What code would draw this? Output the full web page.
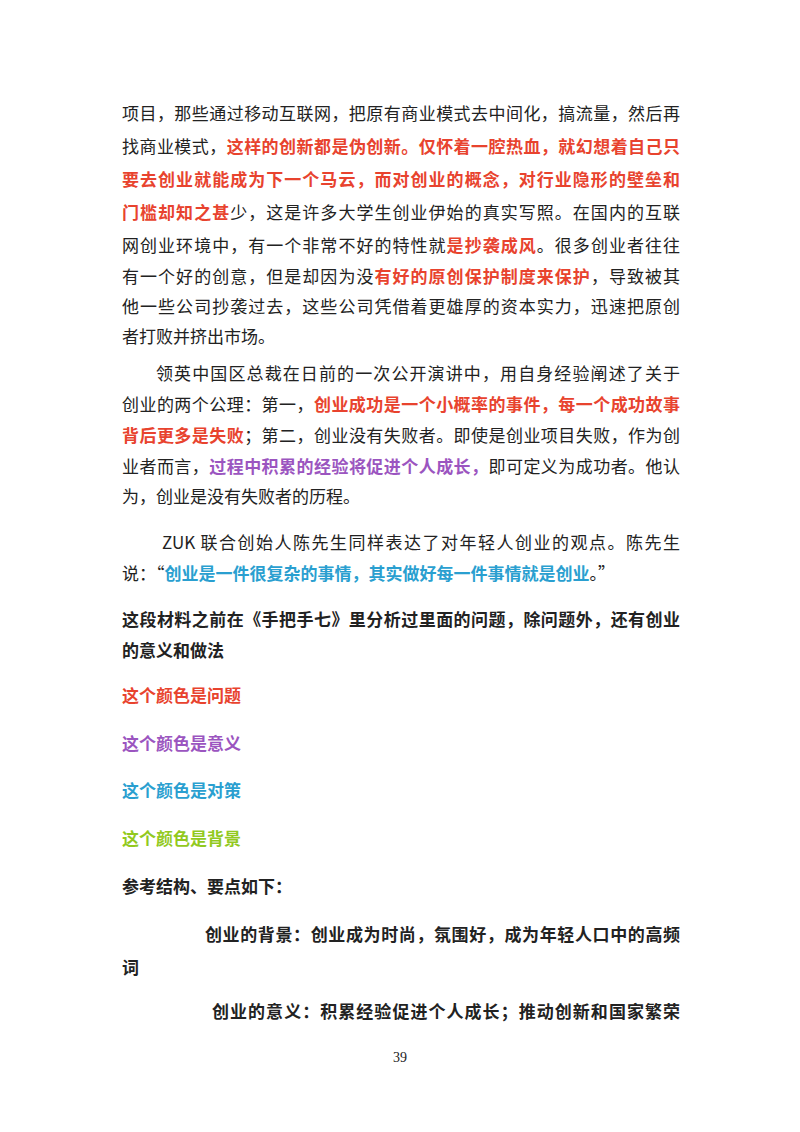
<!DOCTYPE html>
<html><head><meta charset="utf-8">
<script src="https://cdn.jsdelivr.net/npm/chart.js@4"></script>
<style>
body{margin:0;width:800px;height:1132px;background:#fff;font-family:"Noto Sans CJK SC",sans-serif;color:#222;position:relative;overflow:hidden}
.l{position:absolute;left:122px;width:558px;font-size:17px;line-height:24px;white-space:nowrap;text-align:justify;text-align-last:justify}
.e{text-align-last:left}
b{font-weight:bold}
.r{color:#e8432e;font-weight:bold}.p{color:#9b55c0;font-weight:bold}.c{color:#2a9fd0;font-weight:bold}.g{color:#92c91e;font-weight:bold}
#pg{position:absolute;top:1050px;left:0;width:800px;text-align:center;font-family:"Liberation Serif",serif;font-size:14px}
canvas{display:none}
</style></head><body>
<canvas id="c"></canvas>
<div id="pg">39</div>
<script>
const lineTops=[101,134,167,200,233,266,297,314];
const lines=[
 [[101,0,0],[["","项目，那些通过移动互联网，把原有商业模式去中间化，搞流量，然后再"]]],
 [[134,0,0],[["","找商业模式，"],["r","这样的创新都是伪创新。仅怀着一腔热血，就幻想着自己只"]]],
 [[167,0,0],[["r","要去创业就能成为下一个马云，而对创业的概念，对行业隐形的壁垒和"]]],
 [[200,0,0],[["r","门槛却知之甚"],["","少，这是许多大学生创业伊始的真实写照。在国内的互联"]]],
 [[233,0,0],[["","网创业环境中，有一个非常不好的特性就"],["r","是抄袭成风"],["","。很多创业者往往"]]],
 [[264,0,0],[["","有一个好的创意，但是却因为没"],["r","有好的原创保护制度来保护"],["","，导致被其"]]],
 [[294,0,0],[["","他一些公司抄袭过去，这些公司凭借着更雄厚的资本实力，迅速把原创"]]],
 [[324,0,1],[["","者打败并挤出市场。"]]],
 [[361,34,0],[["","领英中国区总裁在日前的一次公开演讲中，用自身经验阐述了关于"]]],
 [[392,0,0],[["","创业的两个公理：第一，"],["r","创业成功是一个小概率的事件，每一个成功故事"]]],
 [[423,0,0],[["r","背后更多是失败"],["","；第二，创业没有失败者。即使是创业项目失败，作为创"]]],
 [[454,0,0],[["","业者而言，"],["p","过程中积累的经验将促进个人成长，"],["","即可定义为成功者。他认"]]],
 [[484,0,1],[["","为，创业是没有失败者的历程。"]]],
 [[530,40,0],[["","ZUK 联合创始人陈先生同样表达了对年轻人创业的观点。陈先生"]]],
 [[561,0,1],[["","说：“"],["c","创业是一件很复杂的事情，其实做好每一件事情就是创业"],["","。”"]]],
 [[607,0,0],[["b","这段材料之前在《手把手七》里分析过里面的问题，除问题外，还有创业"]]],
 [[638,0,1],[["b","的意义和做法"]]],
 [[683,0,1],[["r","这个颜色是问题"]]],
 [[731,0,1],[["p","这个颜色是意义"]]],
 [[778,0,1],[["c","这个颜色是对策"]]],
 [[826,0,1],[["g","这个颜色是背景"]]],
 [[874,0,1],[["b","参考结构、要点如下："]]],
 [[922,83,0],[["b","创业的背景：创业成为时尚，氛围好，成为年轻人口中的高频"]]],
 [[955,0,1],[["b","词"]]],
 [[999,90,0],[["b","创业的意义：积累经验促进个人成长；推动创新和国家繁荣"]]]
];
for(const [[top,ind,end],segs] of lines){
 const d=document.createElement('div');d.className='l'+(end?' e':'');
 d.style.top=top+'px';d.style.left=(122+ind)+'px';d.style.width=(558-ind)+'px';
 for(const [cl,t] of segs){const s=document.createElement(cl==='b'?'b':'span');if(cl&&cl!=='b')s.className=cl;s.textContent=t;d.appendChild(s);}
 document.body.appendChild(d);
}
</script>
</body></html>
